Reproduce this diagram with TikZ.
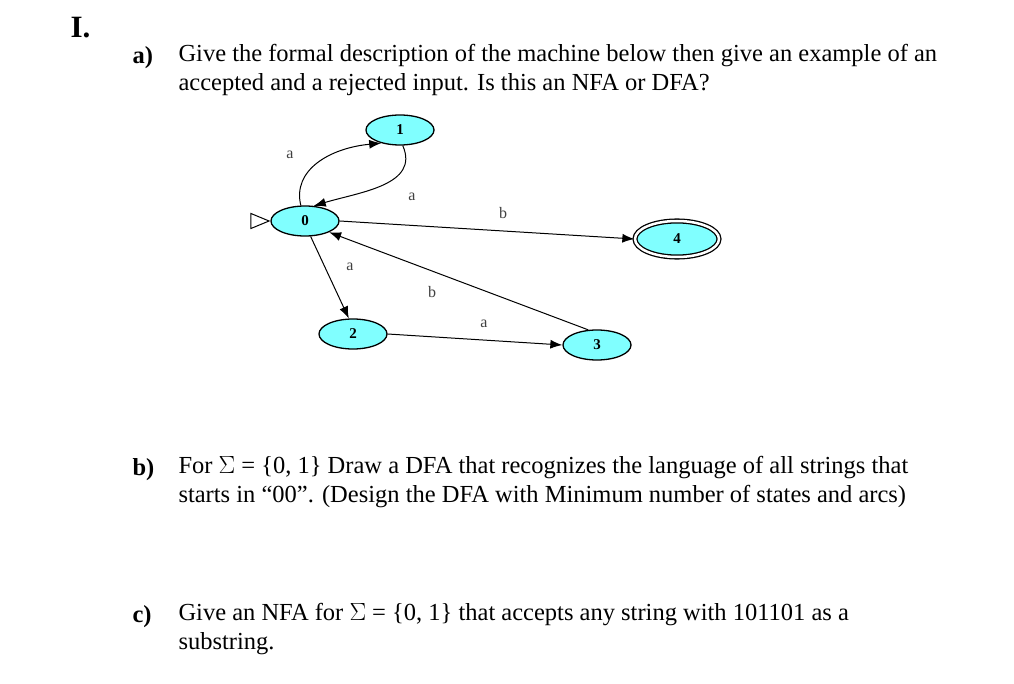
\documentclass[tikz,border=0pt]{standalone}
\usepackage{fontspec}
\setmainfont{Liberation Serif}
\usetikzlibrary{arrows.meta,shapes.geometric}
\definecolor{statecyan}{RGB}{128,255,255}
\begin{document}
\begin{tikzpicture}[x=1pt,y=-1pt,
                    line width=1pt,
                    >={Latex[length=12pt,width=9pt]}]
    \tikzstyle{state}=[ellipse,draw,line width=1.3pt,fill=statecyan,minimum width=68pt,minimum height=30pt,inner sep=0pt,font=\bfseries\fontsize{15}{15}\selectfont]
    \tikzstyle{accepting}=[state,double,double distance=2.5pt,minimum width=84pt,minimum height=36pt]
    \tikzstyle{lbl}=[font=\fontsize{16}{16}\selectfont,text=black!75]
    \tikzstyle{txt}=[anchor=west,align=left,font=\fontsize{24.5}{29}\selectfont,inner sep=0pt]

    \useasboundingbox (0,0) rectangle (1014,684);

    \node[anchor=west,inner sep=0pt,font=\fontsize{31}{31}\selectfont\bfseries] (title) at (70,28) {I.};
    \node[anchor=west,inner sep=0pt,font=\fontsize{24.5}{24}\selectfont\bfseries] (qa) at (132,58) {a)};
    \node[txt,anchor=north west] (ta) at (178,44) {Give the formal description of the machine below then give an example of an\\accepted and a rejected input. Is this an NFA or DFA?};
    \node[anchor=west,inner sep=0pt,font=\fontsize{24.5}{24}\selectfont\bfseries] (qb) at (132,470) {b)};
    \node[txt,anchor=north west] (tb) at (178,456) {For $\Sigma$ = \{0, 1\} Draw a DFA that recognizes the language of all strings that\\starts in “00”. (Design the DFA with Minimum number of states and arcs)};
    \node[anchor=west,inner sep=0pt,font=\fontsize{24.5}{24}\selectfont\bfseries] (qc) at (132,617) {c)};
    \node[txt,anchor=north west] (tc) at (178,603) {Give an NFA for $\Sigma$ = \{0, 1\} that accepts any string with 101101 as a\\substring.};

    \node[state] (s0) at (305,221) {0};
    \node[state] (s1) at (400,130) {1};
    \node[state] (s2) at (353,334) {2};
    \node[state] (s3) at (597,345) {3};
    \node[accepting] (s4) at (677,239) {4};

    \node[isosceles triangle,draw,fill=white,inner sep=0pt,minimum height=14pt,minimum width=15pt,anchor=apex] (start) at (s0.west) {};

    \draw[->] (s0.105) .. controls (292,170) and (330,148) .. (s1.215);
    \draw[->] (s1.280) .. controls (420,185) and (360,192) .. (s0.60);
    \draw[->] (s0.east) -- (s4.west);
    \draw[->] (s0.290) -- (s2.105);
    \draw[->] (s2.east) -- (s3.west);
    \draw[->] (s3.120) -- (s0.335);

    \node[lbl] (l01) at (290,155) {a};
    \node[lbl] (l10) at (412,197) {a};
    \node[lbl] (l04) at (503,213) {b};
    \node[lbl] (l02) at (350,267) {a};
    \node[lbl] (l30) at (432,292) {b};
    \node[lbl] (l23) at (484,324) {a};
\end{tikzpicture}
\end{document}
